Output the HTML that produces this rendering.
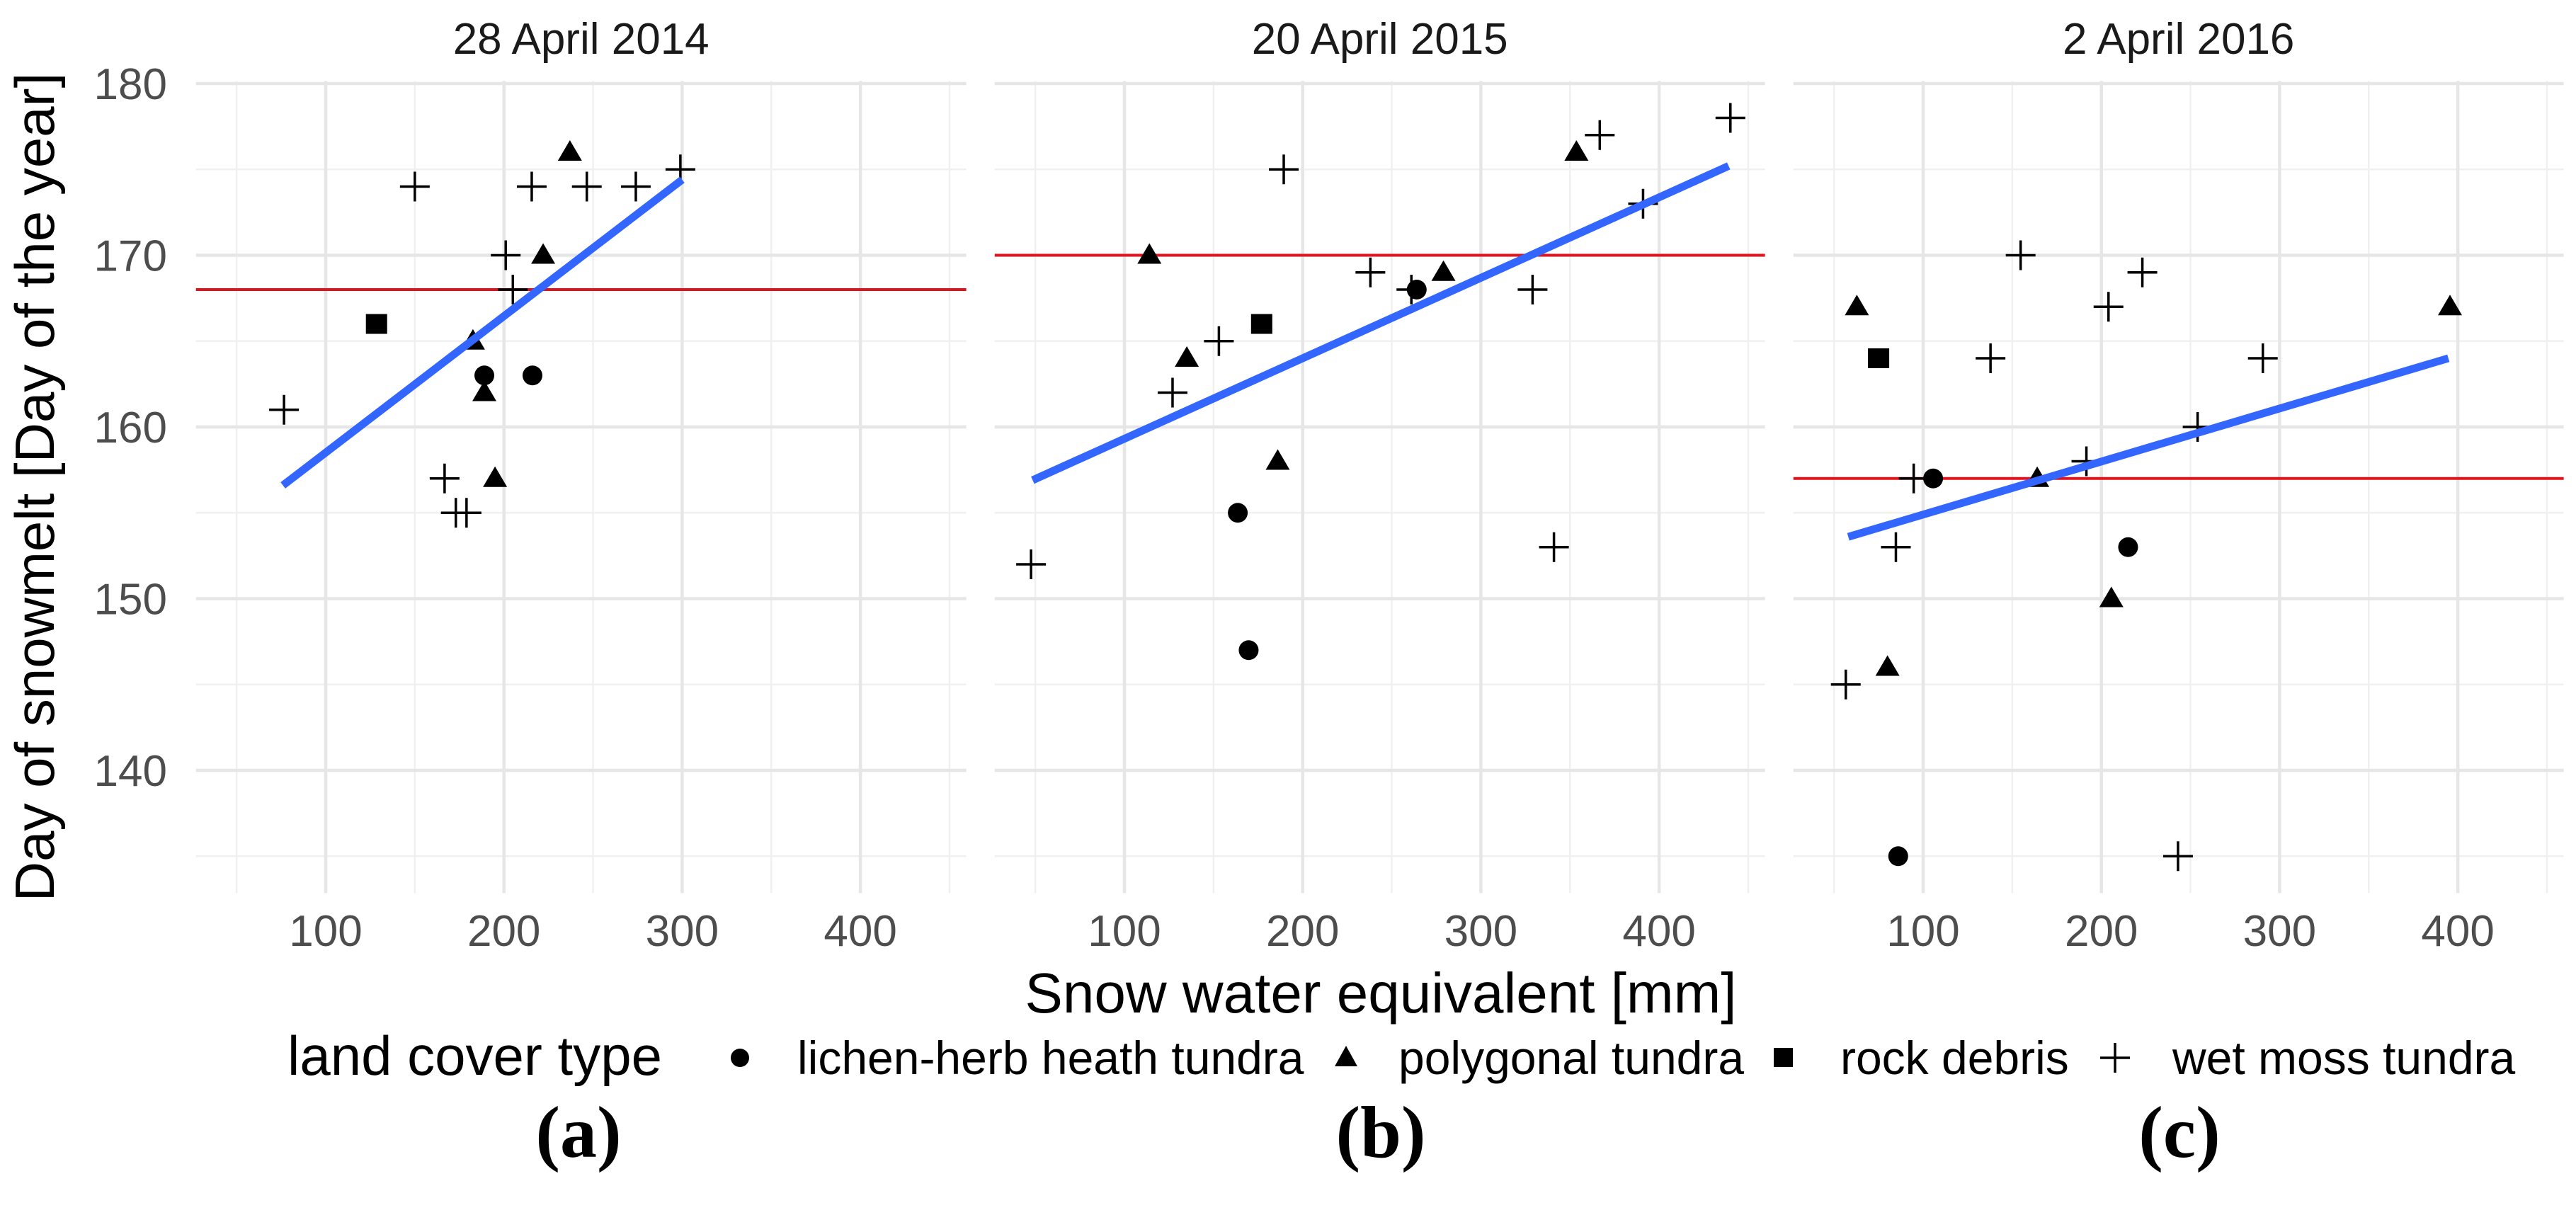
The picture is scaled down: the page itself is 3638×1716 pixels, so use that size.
<!DOCTYPE html>
<html><head><meta charset="utf-8">
<style>
html,body{margin:0;padding:0;background:#fff;}
svg{display:block;font-family:"Liberation Sans",Arial,sans-serif;}
</style></head>
<body>
<svg id="chart" width="3638" height="1716" viewBox="0 0 3638 1716" xmlns="http://www.w3.org/2000/svg">
<g id="panels"></g>
<text x="0" y="0" transform="translate(76,688) rotate(-90)" text-anchor="middle" font-size="78" fill="#000">Day of snowmelt [Day of the year]</text>
<text x="1950" y="1430" text-anchor="middle" font-size="80" fill="#000">Snow water equivalent [mm]</text>
<g font-size="66" fill="#000">
<text x="406" y="1518" font-size="78">land cover type</text>
<circle cx="1045" cy="1494" r="13" fill="#000"/>
<text x="1126" y="1517">lichen-herb heath tundra</text>
<polygon points="1901,1477 1917,1506 1885,1506" fill="#000"/>
<text x="1975" y="1517">polygonal tundra</text>
<rect x="2505" y="1480" width="27" height="27" fill="#000"/>
<text x="2599" y="1517">rock debris</text>
<path d="M2966 1494H3008M2987 1473V1515" stroke="#000" stroke-width="3.5"/>
<text x="3068" y="1517">wet moss tundra</text>
</g>
<g font-family="'Liberation Serif',serif" font-weight="bold" font-size="104" text-anchor="middle" fill="#000">
<text x="817" y="1634">(a)</text>
<text x="1950" y="1634">(b)</text>
<text x="3078" y="1634">(c)</text>
</g>
</svg>
<script>
const panelTitles = ["28 April 2014", "20 April 2015", "2 April 2016"];
const xTicks = [100, 200, 300, 400];
const yTicks = [140, 150, 160, 170, 180];
const meanLine = [168, 170, 157];
const fitStart = [[76, 156.6], [48.5, 156.9], [58, 153.6]];
const fitEnd = [[300, 174.4], [439, 175.2], [394.7, 164.0]];
// panel a
const aLichen = [[189, 163], [216, 163]];
const aPolygonal = [[237, 176], [222, 170], [182.6, 165], [189, 162], [195, 157]];
const aRock = [[128.5, 166]];
const aWetMoss = [[150, 174], [215.6, 174], [246.5, 174], [274, 174], [299, 175], [201, 170], [205, 168], [76.6, 161], [166.7, 157], [173, 155], [179, 155]];
// panel b
const bLichen = [[163.6, 155], [169.7, 147], [264, 168]];
const bPolygonal = [[114, 170], [135, 164], [186, 158], [279, 169], [353.6, 176]];
const bRock = [[177, 166]];
const bWetMoss = [[47.6, 152], [189.4, 175], [127, 162], [153, 165], [238, 169], [261, 168], [329, 168], [341, 153], [366.7, 177], [391, 173], [440, 178]];
// panel c
const cLichen = [[105.6, 157], [215, 153], [86, 135]];
const cPolygonal = [[62.8, 167], [80, 146], [164, 157], [205.6, 150], [395.6, 167]];
const cRock = [[75, 164]];
const cWetMoss = [[56.6, 145], [94.7, 157], [84.7, 153], [137.8, 164], [154.7, 170], [204, 167], [223, 169], [191.6, 158], [254, 160], [290.6, 164], [243, 135]];

const lichen = [aLichen, bLichen, cLichen];
const polygonal = [aPolygonal, bPolygonal, cPolygonal];
const rock = [aRock, bRock, cRock];
const wetMoss = [aWetMoss, bWetMoss, cWetMoss];

const NS = "http://www.w3.org/2000/svg";
const X0 = [460, 1588, 2716], PXU = 2.517;
const Y0 = 118, PYU = 24.25;
const XMIN = 27.2, XMAX = 459.4, YMIN = 132.85, YMAX = 180.15;
function sx(p, v) { return X0[p] + (v - 100) * PXU; }
function sy(v) { return Y0 + (180 - v) * PYU; }
function mk(tag, attrs, parent) {
  const e = document.createElementNS(NS, tag);
  for (const k in attrs) e.setAttribute(k, attrs[k]);
  parent.appendChild(e);
  return e;
}
const root = document.getElementById("panels");
for (let p = 0; p < 3; p++) {
  const g = mk("g", {}, root);
  
  
  const L = sx(p, XMIN), R = sx(p, XMAX), T = sy(YMAX), B = sy(YMIN);
  // minor grid
  for (let v = 50; v <= 450; v += 100) {
    const l = mk("line", {x1: sx(p, v), x2: sx(p, v), y1: T, y2: B, stroke: "#f0f0f0", "stroke-width": 2.5}, g);
    
    
  }
  for (let v = 135; v <= 175; v += 10) {
    const l = mk("line", {x1: L, x2: R, y1: sy(v), y2: sy(v), stroke: "#f0f0f0", "stroke-width": 2.5}, g);
    
    
  }
  xTicks.forEach(v => {
    const l = mk("line", {x1: sx(p, v), x2: sx(p, v), y1: T, y2: B, stroke: "#e6e6e6", "stroke-width": 4.5}, g);
    
    
    const t = mk("text", {x: sx(p, v), y: 1336, "text-anchor": "middle", "font-size": 62, fill: "#4d4d4d"}, g);
    
    
    t.textContent = v;
  });
  yTicks.forEach(v => {
    const l = mk("line", {x1: L, x2: R, y1: sy(v), y2: sy(v), stroke: "#e6e6e6", "stroke-width": 4.5}, g);
    
    
    if (p === 0) {
      const t = mk("text", {x: 236, y: sy(v) + 22, "text-anchor": "end", "font-size": 62, fill: "#4d4d4d"}, g);
      
      
      t.textContent = v;
    }
  });
  const tt = mk("text", {x: (L + R) / 2, y: 76, "text-anchor": "middle", "font-size": 62, fill: "#1a1a1a"}, g);
  
  
  tt.textContent = panelTitles[p];
  const rl = mk("line", {x1: L, x2: R, y1: sy(meanLine[p]), y2: sy(meanLine[p]), stroke: "#e0141e", "stroke-width": 4}, g);
  
  
  // points
  lichen[p].forEach(d => {
    const c = mk("circle", {cx: sx(p, d[0]), cy: sy(d[1]), r: 14, fill: "#000"}, g);
    
    
  });
  polygonal[p].forEach(d => {
    const x = sx(p, d[0]), y = sy(d[1]);
    const c = mk("polygon", {points: `${x},${y - 17} ${x + 17},${y + 12} ${x - 17},${y + 12}`, fill: "#000"}, g);
    
    
  });
  rock[p].forEach(d => {
    const c = mk("rect", {x: sx(p, d[0]) - 15, y: sy(d[1]) - 14, width: 30, height: 28, fill: "#000"}, g);
    
    
  });
  wetMoss[p].forEach(d => {
    const x = sx(p, d[0]), y = sy(d[1]);
    const c = mk("path", {d: `M${x - 21} ${y}H${x + 21}M${x} ${y - 21}V${y + 21}`, stroke: "#000", "stroke-width": 3.5}, g);
    
    
  });
  const fl = mk("line", {x1: sx(p, fitStart[p][0]), y1: sy(fitStart[p][1]), x2: sx(p, fitEnd[p][0]), y2: sy(fitEnd[p][1]), stroke: "#3366ff", "stroke-width": 11}, g);
  
  
}
</script>
</body></html>
